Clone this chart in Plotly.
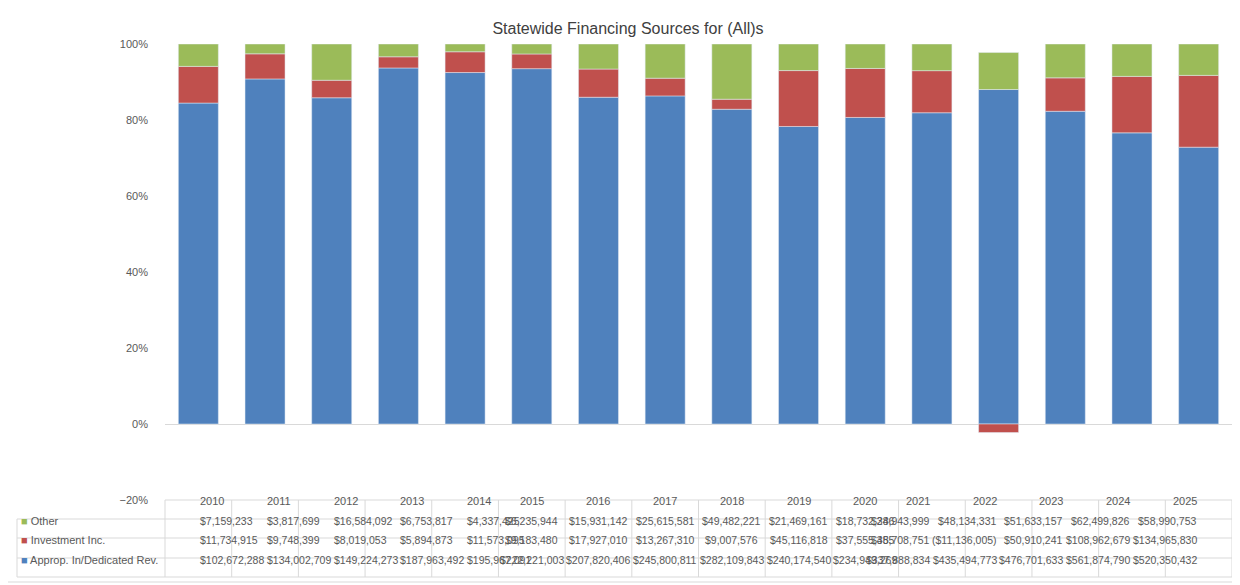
import plotly.graph_objects as go

years = [str(y) for y in range(2010, 2026)]
other = [7159233, 3817699, 16584092, 6753817, 4337425, 6235944, 15931142, 25615581,
         49482221, 21469161, 18732346, 28943999, 48134331, 51633157, 62499826, 58990753]
invest = [11734915, 9748399, 8019053, 5894873, 11573095, 9183480, 17927010, 13267310,
          9007576, 45116818, 37555385, 45708751, -11136005, 50910241, 108962679, 134965830]
approp = [102672288, 134002709, 149224273, 187963492, 195967091, 222221003, 207820406, 245800811,
          282109843, 240174540, 234949269, 337888834, 435494773, 476701633, 561874790, 520350432]

series = [("Approp. In/Dedicated Rev.", approp, "#4F81BD"),
          ("Investment Inc.", invest, "#C0504D"),
          ("Other", other, "#9BBB59")]

# Excel-style 100% stacking: share of sum of absolute values
totals = [abs(a) + abs(b) + abs(c) for a, b, c in zip(approp, invest, other)]

fig = go.Figure()
for name, vals, color in series:
    fig.add_trace(go.Bar(x=years, y=[v / t for v, t in zip(vals, totals)], name=name,
                         marker_color=color, width=0.6, showlegend=False))

fig.update_layout(
    barmode="relative", width=1240, height=585,
    margin=dict(l=157, r=16, t=36, b=93),
    plot_bgcolor="white", paper_bgcolor="white",
    font=dict(family="Liberation Sans", size=11, color="#595959"),
    title=dict(text="Statewide Financing Sources for (All)s", x=0.5, y=0.975,
               font=dict(size=16, color="#404040")),
    xaxis=dict(showticklabels=False, showline=False, range=[-0.5, 15.5]),
    yaxis=dict(range=[-0.2, 1.0], tickvals=[-0.2, 0, 0.2, 0.4, 0.6, 0.8, 1.0],
               tickformat=".0%", showgrid=False, zeroline=True, zerolinecolor="#D9D9D9",
               zerolinewidth=1, ticks="", ticklabelstandoff=16),
)

def fmt(v):
    s = "${:,}".format(abs(v))
    return "(" + s + ")" if v < 0 else s

def py(pix):
    return (500 - pix) / 456

def px(pix):
    return (pix - 165) / 1067

line = dict(color="#D9D9D9", width=1)
rows = [519, 538, 558, 577]
fig.add_shape(type="line", xref="paper", yref="paper", x0=0, x1=1, y0=py(500), y1=py(500), line=line)
for r in rows:
    fig.add_shape(type="line", xref="paper", yref="paper", x0=px(17), x1=1, y0=py(r), y1=py(r), line=line)
fig.add_shape(type="line", xref="paper", yref="paper", x0=px(17), x1=px(17), y0=py(519), y1=py(577), line=line)
for i in range(17):
    xx = i / 16
    fig.add_shape(type="line", xref="paper", yref="paper", x0=xx, x1=xx, y0=py(500), y1=py(577), line=line)

def cx(i):
    return (i + 0.5) / 16

for i, y in enumerate(years):
    fig.add_annotation(x=cx(i), y=py(509.5), xref="paper", yref="paper", text=y, showarrow=False)
table_rows = [("Other", other, "#9BBB59", 528.5), ("Investment Inc.", invest, "#C0504D", 548),
              ("Approp. In/Dedicated Rev.", approp, "#4F81BD", 567.5)]
for name, vals, color, ypix in table_rows:
    fig.add_annotation(x=px(19), y=py(ypix), xref="paper", yref="paper", xanchor="left",
                       text="<span style='color:%s'>■</span> %s" % (color, name), showarrow=False)
    for i, v in enumerate(vals):
        fig.add_annotation(x=cx(i), y=py(ypix), xref="paper", yref="paper", text=fmt(v),
                           showarrow=False, font=dict(size=10.5))

fig.add_shape(type="rect", xref="paper", yref="paper", x0=px(3), x1=px(1237), y0=py(2), y1=py(582),
              line=dict(color="#D9D9D9", width=1))

fig.write_html("out.html")
